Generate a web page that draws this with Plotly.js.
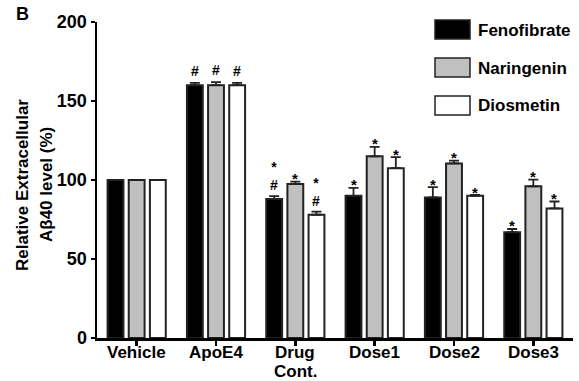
<!DOCTYPE html>
<html><head><meta charset="utf-8">
<script src="https://cdn.plot.ly/plotly-3.0.1.min.js"></script>
<style>html,body{margin:0;padding:0;background:#fff}#chart{width:579px;height:381px}</style>
</head><body><div id="chart"></div>
<script>
const categories = ['Vehicle', 'ApoE4', 'Drug Cont.', 'Dose1', 'Dose2', 'Dose3'];
const categoryLabelLines = [['Vehicle'], ['ApoE4'], ['Drug', 'Cont.'], ['Dose1'], ['Dose2'], ['Dose3']];
const seriesNames = ['Fenofibrate', 'Naringenin', 'Diosmetin'];
const fenofibrate = [100, 160, 88, 90, 89, 67];
const naringenin  = [100, 160, 97.5, 115, 110.5, 96];
const diosmetin   = [100, 160, 78, 107.5, 90, 82];
const fenofibrateErr = [0, 1.5, 1.8, 5, 6.5, 2];
const naringeninErr  = [0, 2, 1.5, 6, 1.7, 4.2];
const diosmetinErr   = [0, 1.5, 2, 7, 0.5, 4.4];
const fenofibrateMarks = ['', '#', '*#', '*', '*', '*'];
const naringeninMarks  = ['', '#', '*', '*', '*', '*'];
const diosmetinMarks   = ['', '#', '*#', '*', '*', '*'];
const yTicks = [0, 50, 100, 150, 200];
const yTitleLines = ['Relative Extracellular', 'Aβ40 level (%)'];

const values = [fenofibrate, naringenin, diosmetin];
const errs = [fenofibrateErr, naringeninErr, diosmetinErr];
const marks = [fenofibrateMarks, naringeninMarks, diosmetinMarks];
const fills = ['#000000', '#c0c0c0', '#ffffff'];
const FONT = 'Liberation Sans, Arial, sans-serif';

const traces = values.map((v, i) => ({
  type: 'bar', name: seriesNames[i], x: categories, y: v,
  marker: {color: fills[i], line: {color: '#222', width: 2}},
  error_y: {type: 'data', symmetric: false, array: errs[i], arrayminus: errs[i].map(() => 0),
            color: '#222', thickness: 1.8, width: 5, visible: true},
  showlegend: false, hoverinfo: 'skip'
}));

// plot area geometry (pixels) used for layout-only placement
const L = 97, R = 6, T = 22, B = 43, W = 579, H = 381;
const pw = W - L - R, ph = H - T - B;
const px = x => (x - L) / pw;
const py = y => (H - B - y) / ph;

const annotations = [];
values.forEach((v, i) => {
  v.forEach((val, j) => {
    const m = marks[i][j];
    if (!m) return;
    const base = {x: categories[j], y: val + errs[i][j], xref: 'x', yref: 'y', borderpad: 0,
                  xshift: (i - 1) * 21, showarrow: false};
    if (m === '#') annotations.push(Object.assign({}, base, {yanchor: 'middle', yshift: 12, text: '<b>#</b>',
      font: {family: FONT, size: 14, color: '#000'}}));
    else if (m === '*') annotations.push(Object.assign({}, base, {yanchor: 'middle', yshift: 3, text: '<b>*</b>',
      font: {family: FONT, size: 15, color: '#000'}}));
    else annotations.push(Object.assign({}, base, {yanchor: 'bottom', yshift: 2, text: '<b>*<br>#</b>',
      font: {family: FONT, size: 14, color: '#000'}}));
  });
});

categoryLabelLines.forEach((lines, j) => {
  lines.forEach((t, k) => {
    annotations.push({x: categories[j], xref: 'x', yref: 'paper', y: py(352 + k * 19),
      yanchor: 'middle', showarrow: false, borderpad: 0, text: '<b>' + t + '</b>',
      font: {family: FONT, size: 17, color: '#000'}});
  });
});

const shapes = [];
seriesNames.forEach((n, i) => {
  const top = 20 + i * 38;
  shapes.push({type: 'rect', xref: 'paper', yref: 'paper',
    x0: px(435), x1: px(470), y0: py(top), y1: py(top + 19),
    fillcolor: fills[i], line: {color: '#222', width: 1.5}});
  annotations.push({xref: 'paper', yref: 'paper', x: px(476), y: py(top + 10),
    xanchor: 'left', yanchor: 'middle', showarrow: false, text: '<b>' + n + '</b>',
    font: {family: FONT, size: 17, color: '#000'}});
});
annotations.push({xref: 'paper', yref: 'paper', x: px(14), y: py(2), xanchor: 'left', yanchor: 'top',
  showarrow: false, text: '<b>B</b>', font: {family: FONT, size: 18, color: '#000'}});
yTitleLines.forEach((t, i) => {
  annotations.push({xref: 'paper', yref: 'paper', x: px(22 + i * 24), y: py(185),
    xanchor: 'center', yanchor: 'middle', textangle: -90, showarrow: false,
    text: '<b>' + t + '</b>', font: {family: FONT, size: 17, color: '#000'}});
});

const layout = {
  width: W, height: H, margin: {l: L, r: R, t: T, b: B},
  paper_bgcolor: '#fff', plot_bgcolor: '#fff',
  barmode: 'group', bargap: 0.2, bargroupgap: 0.25,
  font: {family: FONT, size: 17, color: '#000'},
  xaxis: {showline: true, linecolor: '#000', linewidth: 2.5, ticks: 'outside', ticklen: 5, tickwidth: 2.5,
          tickcolor: '#000', showgrid: false, showticklabels: false,
          range: [-0.5, 5.5], fixedrange: true},
  yaxis: {range: [0, 200], tickvals: yTicks, ticktext: yTicks.map(String), showline: true, linecolor: '#000', linewidth: 2.5,
          ticks: 'outside', ticklen: 4, tickwidth: 2.5, tickcolor: '#000', showgrid: false, zeroline: false,
          tickfont: {family: FONT, size: 18, color: '#000', weight: 'bold'}},
  shapes: shapes, annotations: annotations
};
Plotly.newPlot('chart', traces, layout, {displayModeBar: false, staticPlot: true});
</script></body></html>
